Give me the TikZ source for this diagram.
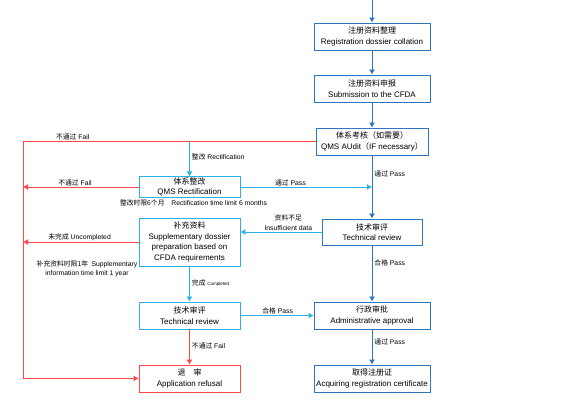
\documentclass[tikz,border=0pt]{standalone}
\usepackage{fontspec}
\setmainfont{Liberation Sans}
\newfontfamily\cjk{Noto Sans CJK SC}
\usetikzlibrary{arrows.meta}
\definecolor{darkblue}{HTML}{2E78C2}
\definecolor{skyblue}{HTML}{2AB2E6}
\definecolor{refusered}{HTML}{FF4848}

\begin{document}
\begin{tikzpicture}[x=1pt,y=-1pt,
    box/.style={draw,line width=0.9pt,align=center,inner sep=1pt,font=\fontsize{8}{10.5}\selectfont},
    darkbox/.style={box,draw=darkblue,minimum width=116pt,minimum height=27pt},
    skybox/.style={box,draw=skyblue,minimum width=101pt,minimum height=27pt},
    redbox/.style={box,draw=refusered,minimum width=101pt,minimum height=27pt},
    lbl/.style={font=\fontsize{6.8}{9.5}\selectfont,inner sep=1pt},
    darkline/.style={draw=darkblue,line width=0.9pt,-{Latex[length=5pt,width=6pt]}},
    skyline/.style={draw=skyblue,line width=0.9pt,-{Latex[length=5pt,width=6pt]}},
    redline/.style={draw=refusered,line width=0.9pt,-{Latex[length=5pt,width=6pt]}}]
  \useasboundingbox (0,0) rectangle (579,406);

  % main line on the right
  \coordinate (top) at (372,0);
  \coordinate (rail) at (23,0);
  \node[darkbox] (collate) at (372,36.5) {{\cjk 注册资料整理}\\Registration dossier collation};
  \node[darkbox] (submit) at (372,88.5) {{\cjk 注册资料申报}\\Submission to the CFDA};
  \node[darkbox,minimum width=112pt] (audit) at (372,141.5) {{\cjk 体系考核（如需要）}\\QMS AUdit{\cjk （}IF necessary{\cjk ）}};
  \node[darkbox,minimum width=100pt,minimum height=26pt] (techA) at (372,232) {{\cjk 技术审评}\\Technical review};
  \node[darkbox] (approve) at (372,315.5) {{\cjk 行政审批}\\Administrative approval};
  \node[darkbox] (cert) at (372,378.5) {{\cjk 取得注册证}\\Acquiring registration certificate};

  % left column
  \node[skybox,minimum height=19pt,font=\fontsize{8}{10}\selectfont] (rectify) at (189.5,187) {{\cjk 体系整改}\\QMS Rectification};
  \node[skybox,minimum height=48pt] (supply) at (189.5,242) {{\cjk 补充资料}\\Supplementary dossier\\preparation based on\\CFDA requirements};
  \node[skybox] (techB) at (189.5,315.5) {{\cjk 技术审评}\\Technical review};
  \node[redbox] (refuse) at (189.5,378.5) {{\cjk 退\quad 审}\\Application refusal};

  \node[lbl] (rectnote) at (193.5,203) {{\cjk 整改时限6个月}\quad Rectification time limit 6 months};
  \node[lbl,align=center] (supplynote) at (87,269) {{\cjk 补充资料时限1年}\enspace Supplementary\\information time limit 1 year};

  \draw[darkline] (top) -- (collate);
  \draw[darkline] (collate) -- (submit);
  \draw[darkline] (submit) -- (audit);
  \draw[darkline] (audit) -- node[lbl,right,xshift=1pt,pos=0.3]{{\cjk 通过} Pass} (techA);
  \draw[darkline] (techA) -- node[lbl,right,xshift=1pt,pos=0.32]{{\cjk 合格} Pass} (approve);
  \draw[darkline] (approve) -- node[lbl,right,xshift=1pt,pos=0.36]{{\cjk 通过} Pass} (cert);

  \draw[redline] (audit.west) -- node[lbl,above,pos=0.83]{{\cjk 不通过} Fail} (audit.west -| rail)
    -- (refuse.west -| rail) -- (refuse.west);
  \draw[skyline] (audit.west -| rectify) -- node[lbl,right,xshift=1pt,pos=0.44]{{\cjk 整改} Rectification} (rectify);
  \draw[redline] (rectify.west) -- node[lbl,above,pos=0.55]{{\cjk 不通过} Fail} (rectify.west -| rail);
  \draw[skyline] (rectify.east) -- node[lbl,above,pos=0.38]{{\cjk 通过} Pass} (rectify.east -| techA);
  \draw[skyline] (techA.west) -- node[lbl,above,align=center,pos=0.41]{{\cjk 资料不足}\\Insufficient data} (techA.west -| supply.east);
  \draw[redline] (supply.west) -- node[lbl,above,pos=0.51]{{\cjk 未完成} Uncompleted} (supply.west -| rail);
  \draw[skyline] (supply) -- node[lbl,right,xshift=1pt,pos=0.47]{{\cjk 完成} {\fontsize{4.5}{5}\selectfont Completed}} (techB);
  \draw[skyline] (techB) -- node[lbl,above,pos=0.51]{{\cjk 合格} Pass} (approve);
  \draw[redline] (techB) -- node[lbl,right,xshift=1pt,pos=0.47]{{\cjk 不通过} Fail} (refuse);
\end{tikzpicture}
\end{document}
